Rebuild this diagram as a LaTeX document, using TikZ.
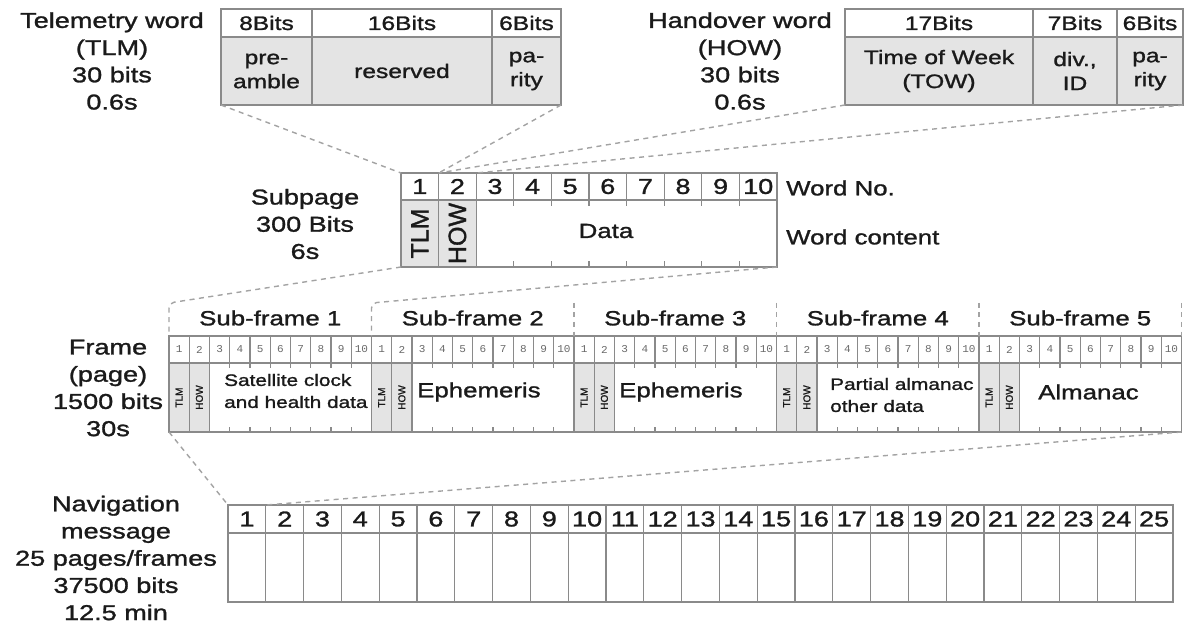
\documentclass[tikz,border=0pt]{standalone}
\usepackage{graphicx}
\usepackage{fontspec}
\setmainfont[FakeStretch=1.26,FakeBold=1.3]{Liberation Sans}
\newfontfamily\rotfont[FakeBold=1.3]{Liberation Sans}
\newfontfamily\tinyfont[FakeStretch=1.05]{Liberation Mono}
\usetikzlibrary{calc}
\definecolor{boxline}{HTML}{8A8A8A}
\definecolor{shade}{HTML}{E4E4E4}
\definecolor{dashc}{HTML}{A3A3A3}
\definecolor{txt}{HTML}{1A1A1A}
\definecolor{tinytxt}{HTML}{6A6A6A}
\newcommand\setfs[2]{\fontsize{#1}{#2}\selectfont}
\begin{document}
\begin{tikzpicture}[x=1pt,y=-1pt,
  every node/.style={text=txt},
  hcell/.style={draw=boxline, line width=1.1pt, fill=white, inner sep=0pt, outer sep=0pt,
    anchor=north west, align=center, font=\setfs{19.5}{24}},
  scell/.style={hcell, fill=shade},
  lbl/.style={align=center, inner sep=0pt, font=\setfs{21.5}{27.2}},
  numcell/.style={hcell, font=\setfs{21.5}{24}},
  fhcell/.style={hcell, text=tinytxt, font=\tinyfont\setfs{10.5}{12}},
  fscell/.style={scell, font=\rotfont\setfs{10}{11}},
  rotcell/.style={scell, font=\rotfont\setfs{25}{27}},
  sflbl/.style={inner sep=0pt, font=\setfs{20.5}{24}},
  ctext/.style={inner sep=0pt, anchor=west, align=left, font=\setfs{20.5}{24}},
  stext/.style={inner sep=0pt, anchor=west, align=left, font=\setfs{16.5}{22}},
  dashln/.style={draw=dashc, line width=1.4pt, dash pattern=on 5pt off 4.5pt},
  tick/.style={draw=boxline, line width=1.1pt},
]
\fill[white] (0,0) rectangle (1186,628);
\useasboundingbox (0,0) rectangle (1186,628);

% ---------- Telemetry word ----------
\node[lbl] (tlmlbl) at (112,61) {Telemetry word\\(TLM)\\30 bits\\0.6s};
\node[hcell, minimum width=91pt, minimum height=28pt] (tlmA) at (221,9) {8Bits};
\node[hcell, minimum width=180pt, minimum height=28pt] (tlmB) at (312,9) {16Bits};
\node[hcell, minimum width=69pt, minimum height=28pt] (tlmC) at (492,9) {6Bits};
\node[scell, minimum width=91pt, minimum height=68pt] (tlmD) at (221,37) {pre-\\amble};
\node[scell, minimum width=180pt, minimum height=68pt] (tlmE) at (312,37) {reserved};
\node[scell, minimum width=69pt, minimum height=68pt] (tlmF) at (492,37) {pa-\\rity};

% ---------- Handover word ----------
\node[lbl] (howlbl) at (740,61) {Handover word\\(HOW)\\30 bits\\0.6s};
\node[hcell, minimum width=188pt, minimum height=28pt] (howA) at (845,9) {17Bits};
\node[hcell, minimum width=84pt, minimum height=28pt] (howB) at (1033,9) {7Bits};
\node[hcell, minimum width=66pt, minimum height=28pt] (howC) at (1117,9) {6Bits};
\node[scell, minimum width=188pt, minimum height=68pt] (howD) at (845,37) {Time of Week\\(TOW)};
\node[scell, minimum width=84pt, minimum height=68pt] (howE) at (1033,37) {div.,\\ID};
\node[scell, minimum width=66pt, minimum height=68pt] (howF) at (1117,37) {pa-\\rity};

% ---------- Subpage ----------
\node[lbl] (splbl) at (305,224) {Subpage\\300 Bits\\6s};
\foreach \i in {1,...,10}{
  \node[numcell, minimum width=37.6pt, minimum height=27pt] (sph\i) at ({401+(\i-1)*37.6},173) {\i};
}
\node[rotcell, minimum width=37.6pt, minimum height=67pt] (spT) at (401,200) {\rotatebox{90}{TLM}};
\node[rotcell, minimum width=37.6pt, minimum height=67pt] (spH) at (438.6,200) {\rotatebox{90}{HOW}};
\node[hcell, minimum width=300.8pt, minimum height=67pt] (spD) at (476.2,200) {};
\node[sflbl] (spdata) at (606,231) {Data};
\foreach \k in {3,...,9}{
  \draw[tick] ({401+\k*37.6},200) -- ++(0,6);
  \draw[tick] ({401+\k*37.6},267) -- ++(0,-6);
}
\node[ctext] (wordno) at (786,188) {Word No.};
\node[ctext] (wordct) at (786,237) {Word content};

% ---------- Frame ----------
\node[lbl] (frlbl) at (108,388) {Frame\\(page)\\1500 bits\\30s};
\foreach \s in {1,...,5}{
  \pgfmathsetmacro\sx{169+(\s-1)*202.5}
  \coordinate (br\s) at (\sx,303);
  \node[sflbl] (sfl\s) at ({\sx+101.25},318) {Sub-frame \s};
  \foreach \c in {1,...,10}{
    \node[fhcell, minimum width=20.25pt, minimum height=27pt] (fh\s-\c) at ({\sx+(\c-1)*20.25},336) {\c};
  }
  \node[fscell, minimum width=20.25pt, minimum height=69pt] (ft\s) at (\sx,363) {\rotatebox{90}{TLM}};
  \node[fscell, minimum width=20.25pt, minimum height=69pt] (fw\s) at ({\sx+20.25},363) {\rotatebox{90}{HOW}};
  \node[hcell, minimum width=162pt, minimum height=69pt] (fd\s) at ({\sx+40.5},363) {};
  \foreach \k in {3,...,9}{
    \draw[tick] ({\sx+\k*20.25},363) -- ++(0,5);
    \draw[tick] ({\sx+\k*20.25},432) -- ++(0,-5);
  }
}
\coordinate (br6) at (1181.5,303);
\node[stext] (sf1txt) at (224,391) {Satellite clock\\and health data};
\node[ctext] (sf2txt) at (417,392) {Ephemeris};
\node[ctext] (sf3txt) at (619,392) {Ephemeris};
\node[stext] (sf4txt) at (830,395) {Partial almanac\\other data};
\node[ctext] (sf5txt) at (1038,392) {Almanac};

% ---------- Navigation message ----------
\node[lbl] (navlbl) at (116,558) {Navigation\\message\\25 pages/frames\\37500 bits\\12.5 min};
\foreach \i in {1,...,25}{
  \node[numcell, minimum width=37.8pt, minimum height=28pt] (nh\i) at ({228+(\i-1)*37.8},505) {\i};
  \node[hcell, minimum width=37.8pt, minimum height=69pt] (nc\i) at ({228+(\i-1)*37.8},533) {};
}

% ---------- dashed connectors ----------
\draw[dashln] (tlmD.south west) -- (sph1.north west);
\draw[dashln] (tlmF.south east) -- (sph1.north east);
\draw[dashln] (howD.south west) -- (sph2.north west);
\draw[dashln] (howF.south east) -- (sph2.north east);
\draw[dashln, rounded corners=5pt] (spT.south west) -- (br1) -- (fh1-1.north west);
\draw[dashln, rounded corners=5pt] (spD.south east) -- (br2) -- (fh2-1.north west);
\draw[dashln] (br3) -- (fh3-1.north west);
\draw[dashln] (br4) -- (fh4-1.north west);
\draw[dashln] (br5) -- (fh5-1.north west);
\draw[dashln] (br6) -- (fh5-10.north east);
\draw[dashln] (ft1.south west) -- (nh1.north west);
\draw[dashln] (fd5.south east) -- (nh1.north east);
\end{tikzpicture}
\end{document}
